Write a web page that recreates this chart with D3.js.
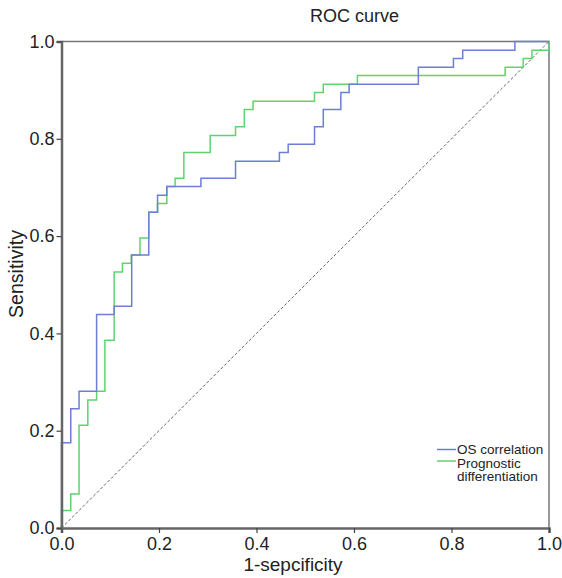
<!DOCTYPE html>
<html><head><meta charset="utf-8">
<script src="https://cdn.jsdelivr.net/npm/d3@7"></script>
<style>body{margin:0;background:#fff}svg{display:block}text{font-family:"Liberation Sans",Arial,sans-serif;fill:#222}</style>
</head><body>
<script>
const title = "ROC curve";
const xLabel = "1-sepcificity";
const yLabel = "Sensitivity";
const tickValues = [0, 0.2, 0.4, 0.6, 0.8, 1.0];
const seriesNames = ["OS correlation", "Prognostic differentiation"];
// ROC points (1-specificity, sensitivity)
const osFpr = [0,0,0.019,0.036,0.072,0.108,0.144,0.179,0.197,0.216,0.286,0.357,0.447,0.465,0.519,0.537,0.573,0.590,0.732,0.804,0.823,0.930,1];
const osTpr = [0,0.175,0.245,0.281,0.439,0.456,0.561,0.649,0.684,0.702,0.719,0.754,0.772,0.789,0.825,0.860,0.895,0.912,0.947,0.965,0.982,1,1];
const pdFpr = [0,0,0.019,0.036,0.054,0.072,0.089,0.108,0.125,0.143,0.161,0.179,0.197,0.216,0.233,0.251,0.305,0.357,0.375,0.393,0.519,0.537,0.607,0.910,0.947,0.965,1,1];
const pdTpr = [0,0.036,0.070,0.211,0.263,0.281,0.386,0.526,0.544,0.561,0.596,0.649,0.667,0.702,0.719,0.772,0.807,0.825,0.860,0.877,0.895,0.912,0.930,0.947,0.965,0.982,0.982,1];

const W = 562, H = 578;
const svg = d3.select("body").append("svg").attr("width", W).attr("height", H);
const x = d3.scaleLinear().domain([0,1]).range([61.5, 549]);
const y = d3.scaleLinear().domain([0,1]).range([528, 41.5]);

// frame top/right
svg.append("path").attr("d", `M${x(0)},${y(1)}H${x(1)}V${y(0)}`).attr("fill","none").attr("stroke","#777").attr("stroke-width",1.5);

// diagonal
svg.append("line").attr("x1",x(0)).attr("y1",y(0)).attr("x2",x(1)).attr("y2",y(1))
  .attr("stroke","#666").attr("stroke-width",1).attr("stroke-dasharray","3,2");

const line = d3.line().x(d=>x(d[0])).y(d=>y(d[1])).curve(d3.curveStepAfter);
const osPts = osFpr.map((v,i)=>[v, osTpr[i]]);
const pdPts = pdFpr.map((v,i)=>[v, pdTpr[i]]);
const colors = ["#6d7fd3", "#62d26f"];
svg.append("path").attr("d", line(pdPts)).attr("fill","none").attr("stroke",colors[1]).attr("stroke-width",1.5);
svg.append("path").attr("d", line(osPts)).attr("fill","none").attr("stroke",colors[0]).attr("stroke-width",1.5);

// axes
const fmt = d3.format(".1f");
const xa = svg.append("g").attr("transform",`translate(0,${y(0)})`)
  .call(d3.axisBottom(x).tickValues(tickValues).tickFormat(fmt).tickSize(5).tickPadding(4));
const ya = svg.append("g").attr("transform",`translate(${x(0)},0)`)
  .call(d3.axisLeft(y).tickValues(tickValues).tickFormat(fmt).tickSize(5).tickPadding(2));
[xa, ya].forEach(g => {
  g.select(".domain").attr("stroke","#666").attr("stroke-width",2.5);
  g.selectAll(".tick line").attr("stroke","#444").attr("stroke-width",1.2);
  g.selectAll(".tick text").attr("font-size",18).attr("fill","#222").attr("font-family","Liberation Sans, Arial, sans-serif");
});

// labels
svg.append("text").attr("x",310).attr("y",22).attr("text-anchor","start").attr("font-size",18).text(title);
svg.append("text").attr("x",293).attr("y",571).attr("text-anchor","middle").attr("font-size",19).text(xLabel);
svg.append("text").attr("transform","translate(23,274) rotate(-90)").attr("text-anchor","middle").attr("font-size",19.5).text(yLabel);

// legend
const lg = svg.append("g");
lg.append("line").attr("x1",437).attr("x2",456).attr("y1",449.5).attr("y2",449.5).attr("stroke",colors[0]).attr("stroke-width",1.5);
lg.append("line").attr("x1",437).attr("x2",456).attr("y1",461).attr("y2",461).attr("stroke",colors[1]).attr("stroke-width",1.5);
lg.append("text").attr("x",457).attr("y",454).attr("font-size",13.5).text(seriesNames[0]);
const parts = seriesNames[1].split(" ");
lg.append("text").attr("x",457).attr("y",467.5).attr("font-size",13.5).text(parts[0]);
lg.append("text").attr("x",457).attr("y",481).attr("font-size",13.5).text(parts[1]);
</script>
</body></html>
